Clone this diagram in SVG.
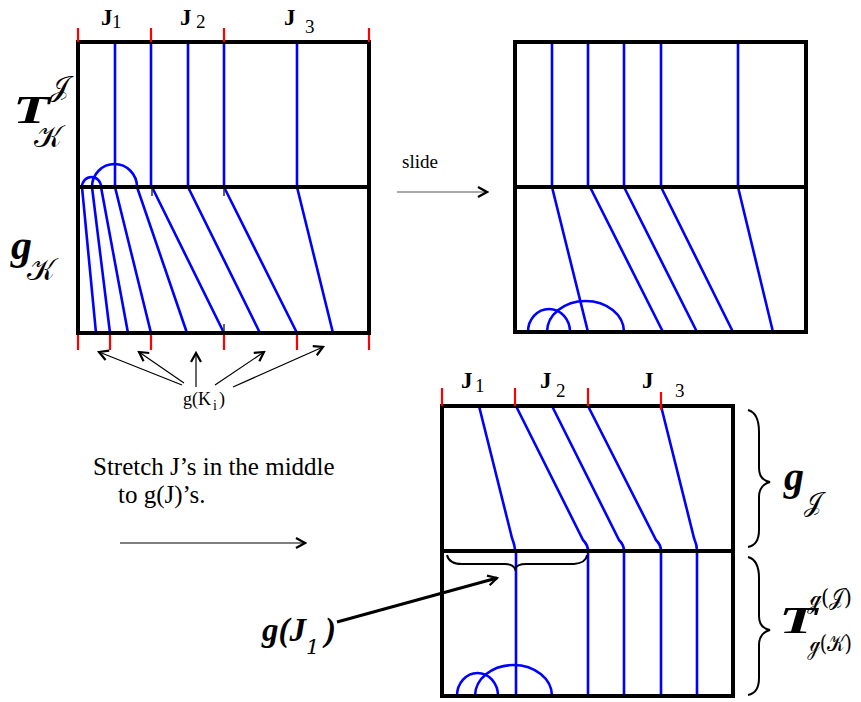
<svg xmlns="http://www.w3.org/2000/svg" width="861" height="702" viewBox="0 0 861 702">
<style>
.box{fill:none;stroke:#000;stroke-width:4}
.mid{stroke:#000;stroke-width:4}
.bl{fill:none;stroke:#0000ff;stroke-width:2.6}
.rt{stroke:#ff0000;stroke-width:2.2}
.tk{stroke:#333;stroke-width:1.5}
.ar{fill:none;stroke:#000;stroke-width:1.2}
.t{font-family:"Liberation Serif","Times New Roman",serif;fill:#000}
.m{font-family:"Liberation Serif","DejaVu Serif",serif;font-weight:bold;font-style:italic;fill:#000}
.s{font-family:"DejaVu Serif","DejaVu Sans","Liberation Serif",serif;fill:#000}
.br{fill:none;stroke:#000;stroke-width:2}
</style>
<defs>
<marker id="chev" viewBox="0 0 12 12" refX="10" refY="6" markerWidth="12" markerHeight="12" markerUnits="userSpaceOnUse" orient="auto">
<path d="M1,1 L10,6 L1,11" fill="none" stroke="#000" stroke-width="2.2"/>
</marker>
</defs>
<rect width="861" height="702" fill="#fff"/>

<g id="box-top-left">
<g class="bl">
<path d="M115,42V187M151,42V187M188,42V187M224,42V187M297,42V187"/>
<path d="M82,187L96,333M92,187L110,333M101,187L128,333M115,187L151,333M137,187L187,333M152,187L224,333M188,187L260,333M224,187L297,333M297,187L333,333"/>
<path d="M82,187A9.5,10 0 0 1 101,187"/>
<path d="M92,187A22.5,23 0 0 1 137,187"/>
</g>
<rect class="box" x="78" y="42" width="291" height="291"/>
<line class="mid" x1="78" y1="187" x2="369" y2="187"/>
<path class="tk" d="M152,189V196M224,189V196M224,324V331"/>
<path class="rt" d="M78,28V42M151,28V42M224,28V42M369,28V42"/>
<path class="rt" d="M78,335V350M110,335V350M151,335V350M224,335V350M297,335V350M369,335V350"/>
</g>

<g id="box-top-right">
<g class="bl">
<path d="M552,42V187M588,42V187M624,42V187M661,42V187M738,42V187"/>
<path d="M552,187L588,332M590,187L663,332M624,187L697,332M661,187L733,332M738,187L773,332"/>
<path d="M528,332A21,23 0 0 1 570,332"/>
<path d="M547,332A38.5,31 0 0 1 624,332"/>
</g>
<rect class="box" x="515" y="42" width="291" height="290"/>
<line class="mid" x1="515" y1="187" x2="806" y2="187"/>
</g>

<g id="box-bottom">
<g class="bl">
<path d="M479,406L512,538Q515,546 515,551M516,406L583,540Q588,545 588,551M552,406L619,540Q624,545 624,551M588,406L656,540Q661,545 661,551M661,406L694,538Q697,545 697,551"/>
<path d="M516,551V696M588,551V696M624,551V696M661,551V696M697,551V696"/>
<path d="M457,696A20.5,23 0 0 1 498,696"/>
<path d="M475,696A38.5,31 0 0 1 552,696"/>
</g>
<rect class="box" x="442" y="406" width="291" height="290"/>
<line class="mid" x1="442" y1="551" x2="733" y2="551"/>
<path class="rt" d="M442,388V406M515,388V406M588,388V406M661,392V410"/>
<path class="br" d="M447,555Q449,564 462,564L505,564Q513,564 515,569Q517,564 526,564L574,564Q586,563 587,555"/>
</g>

<g id="braces-right">
<path class="br" d="M748,410Q759,413 759,432L759,468Q759,480 770,482Q759,485 759,497L759,530Q759,545 748,547"/>
<path class="br" d="M748,557Q759,560 759,578L759,616Q759,628 770,630Q759,633 759,645L759,678Q759,693 748,695"/>
</g>

<g id="connectors">
<line class="ar" x1="182" y1="385" x2="99" y2="352" marker-end="url(#chev)"/>
<line class="ar" x1="184" y1="383" x2="139" y2="352" marker-end="url(#chev)"/>
<line class="ar" x1="196" y1="387" x2="196" y2="353" marker-end="url(#chev)"/>
<line class="ar" x1="215" y1="385" x2="264" y2="352" marker-end="url(#chev)"/>
<line class="ar" x1="233" y1="387" x2="323" y2="347" marker-end="url(#chev)"/>
<line x1="397" y1="192" x2="487" y2="192" stroke="#555" stroke-width="1.2" marker-end="url(#chev)"/>
<line x1="120" y1="543" x2="305" y2="543" stroke="#000" stroke-width="1.2" marker-end="url(#chev)"/>
<line x1="337" y1="622" x2="497" y2="578" stroke="#000" stroke-width="3" marker-end="url(#chev)"/>
</g>

<g id="labels">
<text class="t" x="101" y="25" font-size="23" font-weight="bold">J</text>
<text class="t" x="112" y="28" font-size="19">1</text>
<text class="t" x="180" y="25" font-size="23" font-weight="bold">J</text>
<text class="t" x="196" y="28" font-size="19">2</text>
<text class="t" x="284" y="25" font-size="23" font-weight="bold">J</text>
<text class="t" x="305" y="33" font-size="19">3</text>

<text class="t" x="461" y="388" font-size="23" font-weight="bold">J</text>
<text class="t" x="475" y="392" font-size="19">1</text>
<text class="t" x="540" y="388" font-size="23" font-weight="bold">J</text>
<text class="t" x="556" y="397" font-size="19">2</text>
<text class="t" x="642" y="388" font-size="23" font-weight="bold">J</text>
<text class="t" x="675" y="397" font-size="19">3</text>

<text class="m" x="13" y="123" font-size="40" textLength="37" lengthAdjust="spacingAndGlyphs">T</text>
<text class="s" x="50" y="96" font-size="28">𝒥</text>
<text class="s" x="34" y="147" font-size="30">𝒦</text>
<text class="m" x="11" y="259" font-size="42">g</text>
<text class="s" x="27" y="280" font-size="30">𝒦</text>

<text class="t" x="402" y="168" font-size="19">slide</text>
<text class="t" x="183" y="405" font-size="18">g(K</text>
<text class="t" x="213" y="410" font-size="14">i</text>
<text class="t" x="219" y="405" font-size="18">)</text>

<text class="t" x="93" y="475" font-size="25">Stretch J’s in the middle</text>
<text class="t" x="118" y="503" font-size="25">to g(J)’s.</text>

<text class="m" x="262" y="641" font-size="33">g(J</text>
<text class="s" x="306" y="654" font-size="21" font-style="italic">1</text>
<text class="m" x="325" y="641" font-size="33">)</text>

<text class="m" x="784" y="490" font-size="40">g</text>
<text class="s" x="804" y="511" font-size="26">𝒥</text>
<text class="m" x="779" y="633" font-size="38" textLength="38" lengthAdjust="spacingAndGlyphs">T</text>
<text class="s" x="809" y="605" font-size="23" textLength="43" lengthAdjust="spacingAndGlyphs">ℊ(𝒥)</text>
<text class="s" x="809" y="651" font-size="23" textLength="43" lengthAdjust="spacingAndGlyphs">ℊ(𝒦)</text>
</g>
</svg>
